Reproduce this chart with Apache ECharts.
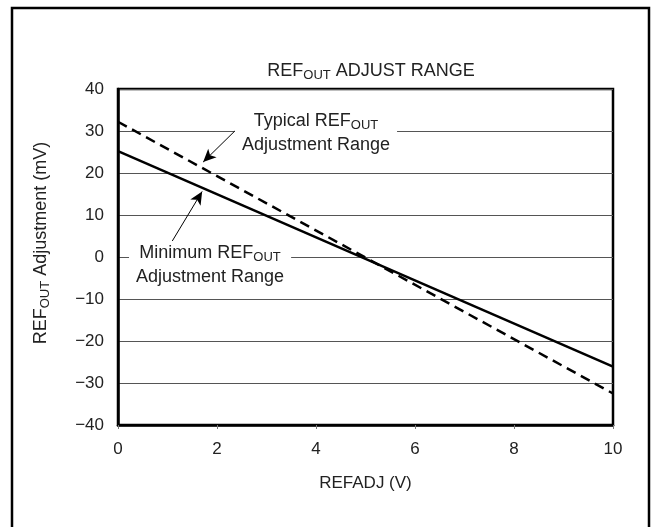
<!DOCTYPE html>
<html>
<head>
<meta charset="utf-8">
<script src="https://cdn.jsdelivr.net/npm/echarts@6/dist/echarts.min.js"></script>
<style>
  html, body { margin: 0; padding: 0; background: #fff; }
  #chart { width: 653px; height: 527px; }
</style>
</head>
<body>
<div id="chart"></div>
<script>
// values
const refadj = [0, 10];
const typicalRange = [32.2, -32.5];
const minimumRange = [25.2, -26.1];
const xTicks = [0, 2, 4, 6, 8, 10];
const yTicks = [-40, -30, -20, -10, 0, 10, 20, 30, 40];

// annotation text anchors and arrows, in data units
const typicalNote = [4.0, 29.6];
const typicalArrow = [[2.36, 30.0], [1.72, 22.6]];
const minimumNote = [1.86, -1.9];
const minimumArrow = [[1.05, 2.9], [1.70, 15.6]];

const font = 'Liberation Sans, Arial, sans-serif';
const rich = {
  t: { fontSize: 18, fontFamily: font, fontWeight: 'normal', color: '#222' },
  s: { fontSize: 13, fontFamily: font, fontWeight: 'normal', color: '#222', padding: [9, 0, 0, 0] }
};

const chart = echarts.init(document.getElementById('chart'));

const pairs = (ys) => refadj.map((x, i) => [x, ys[i]]);

const noteLabel = (lines) => ({
  show: true,
  position: 'inside',
  backgroundColor: '#fff',
  padding: [0, 7],
  lineHeight: 24,
  align: 'center',
  formatter: lines,
  rich: rich
});

const option = {
  animation: false,
  backgroundColor: '#fff',
  grid: {
    left: 118, right: 40, top: 89, bottom: 102,
    show: true, borderColor: '#000', borderWidth: 2.5
  },
  title: {
    text: '{t|REF}{s|OUT}{t| ADJUST RANGE}',
    left: 366, top: 55, textAlign: 'center',
    textStyle: { fontWeight: 'normal', rich: rich }
  },
  graphic: [{
    type: 'rect',
    shape: { x: 12, y: 8, width: 637, height: 600 },
    style: { fill: 'none', stroke: '#000', lineWidth: 2.5 },
    z: 100
  }],
  xAxis: {
    type: 'value',
    min: 0, max: 10, interval: 2,
    name: 'REFADJ (V)',
    nameLocation: 'middle',
    nameGap: 50,
    nameTextStyle: { fontSize: 17, fontFamily: font, color: '#222' },
    axisLine: { show: true, onZero: false, lineStyle: { color: '#000', width: 2.5 } },
    axisTick: { show: true, length: 4, inside: false, lineStyle: { color: '#777', width: 1 } },
    axisLabel: {
      margin: 16, fontSize: 17, fontFamily: font, color: '#222',
      formatter: (v) => xTicks.includes(v) ? String(v) : ''
    },
    splitLine: { show: false }
  },
  yAxis: {
    type: 'value',
    min: -40, max: 40, interval: 10,
    name: '{t|REF}{s|OUT}{t| Adjustment (mV)}',
    nameLocation: 'middle',
    nameGap: 66,
    nameTextStyle: { rich: rich, padding: [0, 0, 0, 28] },
    axisLine: { show: true, onZero: false, lineStyle: { color: '#000', width: 2.5 } },
    axisTick: { show: false },
    axisLabel: {
      margin: 14, fontSize: 17, fontFamily: font, color: '#222',
      formatter: (v) => yTicks.includes(v) ? String(v).replace('-', '\u2212') : ''
    },
    splitLine: { show: true, lineStyle: { color: '#555', width: 1 } }
  },
  series: [
    {
      name: 'Typical',
      type: 'line',
      data: pairs(typicalRange),
      showSymbol: false,
      lineStyle: { color: '#000', width: 2.5, type: [10, 6] },
      z: 3,
      markLine: {
        silent: true,
        symbol: ['none', 'arrow'],
        symbolSize: [9, 13],
        lineStyle: { color: '#000', width: 1, type: 'solid' },
        label: { show: false },
        data: [[{ coord: typicalArrow[0] }, { coord: typicalArrow[1] }]]
      },
      markPoint: {
        silent: true,
        symbol: 'rect', symbolSize: 1,
        itemStyle: { color: 'rgba(0,0,0,0)' },
        label: noteLabel('{t|Typical REF}{s|OUT}\n{t|Adjustment Range}'),
        data: [{ coord: typicalNote }]
      }
    },
    {
      name: 'Minimum',
      type: 'line',
      data: pairs(minimumRange),
      showSymbol: false,
      lineStyle: { color: '#000', width: 2.5 },
      z: 3,
      markLine: {
        silent: true,
        symbol: ['none', 'arrow'],
        symbolSize: [9, 13],
        lineStyle: { color: '#000', width: 1, type: 'solid' },
        label: { show: false },
        data: [[{ coord: minimumArrow[0] }, { coord: minimumArrow[1] }]]
      },
      markPoint: {
        silent: true,
        symbol: 'rect', symbolSize: 1,
        itemStyle: { color: 'rgba(0,0,0,0)' },
        label: noteLabel('{t|Minimum REF}{s|OUT}\n{t|Adjustment Range}'),
        data: [{ coord: minimumNote }]
      }
    }
  ]
};

chart.setOption(option);
</script>
</body>
</html>
